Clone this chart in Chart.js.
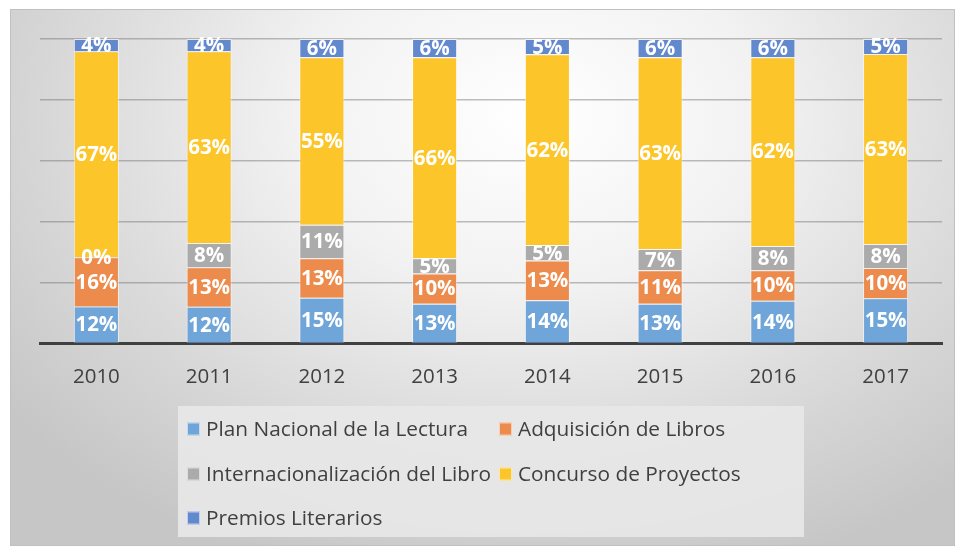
<!DOCTYPE html>
<html>
<head>
<meta charset="utf-8">
<script src="https://cdn.jsdelivr.net/npm/chart.js@4.4.1/dist/chart.umd.min.js"></script>
<style>
  html, body { margin: 0; padding: 0; background: #fff; }
  #fondo {
    position: absolute; left: 10px; top: 9px; width: 945px; height: 537px;
    box-sizing: border-box; border: 1px solid #c0c0c0;
    background: radial-gradient(ellipse 70% 90% at 55% 20%, #ffffff 0%, #f2f2f2 35%, #d6d6d6 75%, #c6c6c6 100%);
  }
  #wrap { position: absolute; left: 0; top: 0; width: 960px; height: 547px; }
</style>
</head>
<body>
<div id="fondo"></div>
<div id="wrap"><canvas id="grafico"></canvas></div>
<script>
// datos
var anios = ['2010', '2011', '2012', '2013', '2014', '2015', '2016', '2017'];
var planNacional = [12, 12, 15, 13, 14, 13, 14, 15];
var adquisicion = [16, 13, 13, 10, 13, 11, 10, 10];
var internacional = [0, 8, 11, 5, 5, 7, 8, 8];
var concurso = [67, 63, 55, 66, 62, 63, 62, 63];
var premios = [4, 4, 6, 6, 5, 6, 6, 5];
var nombres = ['Plan Nacional de la Lectura', 'Adquisición de Libros', 'Internacionalización del Libro', 'Concurso de Proyectos', 'Premios Literarios'];
var colores = ['#6FA5D8', '#EC8B4C', '#ABABAB', '#FCC52A', '#6288CD'];

var series = [planNacional, adquisicion, internacional, concurso, premios];

// 100% apilado como en excel
var totales = anios.map(function (a, i) {
  var t = 0;
  series.forEach(function (s) { t += s[i]; });
  return t;
});

var datasets = series.map(function (s, k) {
  return {
    label: nombres[k],
    data: s.map(function (v, i) { return v / totales[i] * 100; }),
    valores: s,
    backgroundColor: colores[k],
    borderColor: 'rgba(255,255,255,0.55)',
    borderWidth: 1,
    barPercentage: 0.4,
    categoryPercentage: 1
  };
});

var fuente = '"Open Sans"';

var etiquetas = {
  id: 'etiquetas',
  afterDatasetsDraw: function (chart) {
    var ctx = chart.ctx;
    ctx.save();
    ctx.fillStyle = '#ffffff';
    ctx.font = 'bold 20.5px ' + fuente;
    ctx.textAlign = 'center';
    ctx.textBaseline = 'middle';
    chart.data.datasets.forEach(function (ds, k) {
      var meta = chart.getDatasetMeta(k);
      meta.data.forEach(function (bar, i) {
        var medio = (bar.y + bar.base) / 2;
        ctx.fillText(ds.valores[i] + '%', bar.x, medio + 1);
      });
    });
    ctx.restore();
  }
};

var leyenda = {
  id: 'leyenda',
  afterDraw: function (chart) {
    var ctx = chart.ctx;
    ctx.save();
    ctx.fillStyle = 'rgba(232,232,232,0.9)';
    ctx.fillRect(178, 406, 626, 131);
    var cols = [187, 499];
    var filas = [429, 474, 518];
    ctx.font = '20.8px ' + fuente;
    ctx.textBaseline = 'middle';
    chart.data.datasets.forEach(function (ds, k) {
      var x = cols[k % 2];
      var y = filas[Math.floor(k / 2)];
      ctx.fillStyle = ds.backgroundColor;
      ctx.fillRect(x, y - 6.5, 13, 13);
      ctx.strokeStyle = 'rgba(255,255,255,0.6)';
      ctx.lineWidth = 1;
      ctx.strokeRect(x + 0.5, y - 6, 12, 12);
      ctx.fillStyle = '#404040';
      ctx.fillText(ds.label, x + 19, y + 1);
    });
    ctx.restore();
  }
};

new Chart(document.getElementById('grafico'), {
  type: 'bar',
  data: { labels: anios, datasets: datasets },
  plugins: [etiquetas, leyenda],
  options: {
    responsive: true,
    maintainAspectRatio: false,
    animation: false,
    layout: { padding: { left: 40, right: 18, top: 39, bottom: 145 } },
    plugins: {
      legend: { display: false },
      tooltip: { enabled: false }
    },
    scales: {
      x: {
        stacked: true,
        grid: { display: false },
        border: { color: '#404040', width: 3 },
        ticks: { color: '#404040', font: { family: 'Open Sans', size: 20.5 }, padding: 13 }
      },
      y: {
        stacked: true,
        min: 0,
        max: 100,
        ticks: { display: false, stepSize: 20 },
        border: { display: false },
        grid: { color: 'rgba(110,110,110,0.45)', lineWidth: 1.5, drawTicks: false }
      }
    }
  }
});
</script>
</body>
</html>
